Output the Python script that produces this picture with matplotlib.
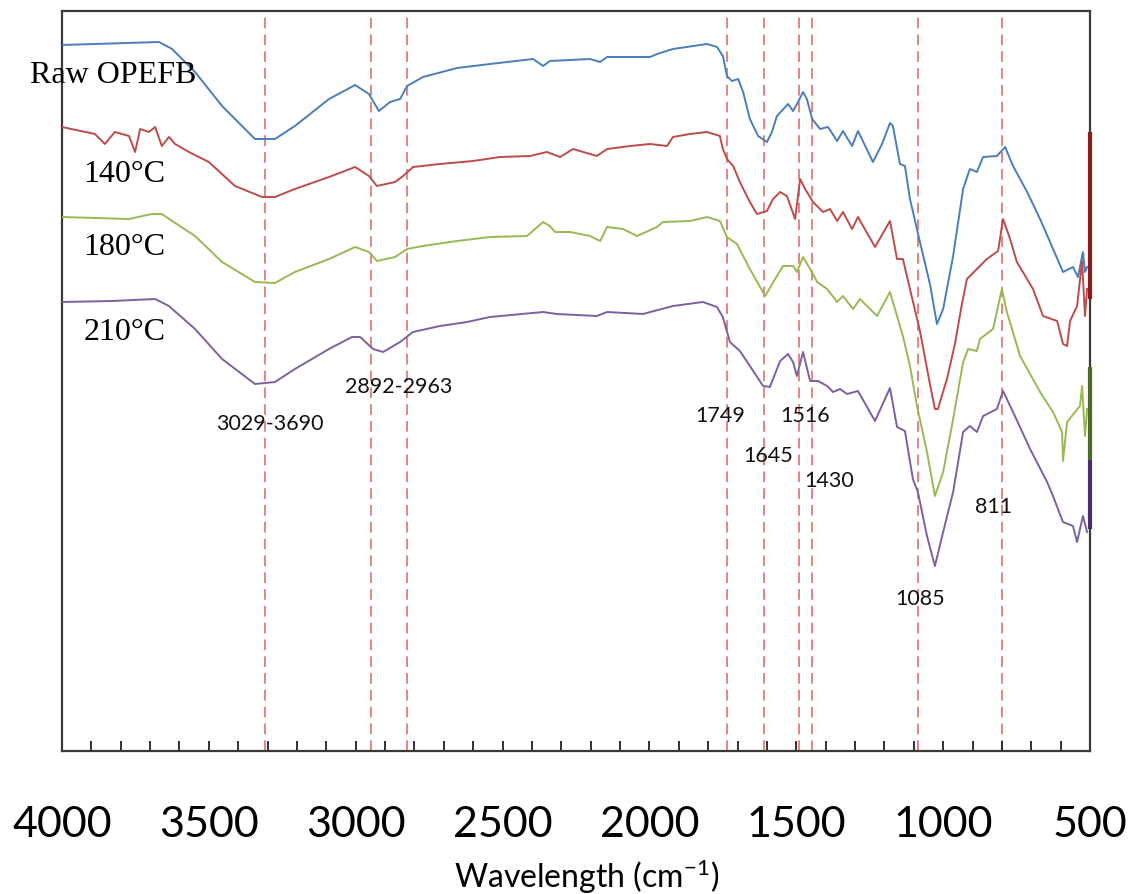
import matplotlib
matplotlib.use("Agg")
import matplotlib.pyplot as plt
from matplotlib.ticker import MultipleLocator

plt.rcParams['mathtext.fontset'] = 'custom'
plt.rcParams['mathtext.rm'] = 'Lato'
plt.rcParams['mathtext.it'] = 'Lato'

# ---------------- data (wavenumber cm-1, transmittance a.u.) ----------------
raw_wn = [4000, 3670, 3625, 3547, 3455, 3343, 3275, 3207, 3091, 3002, 2955, 2921, 2883, 2849,
          2825, 2771, 2655, 2543, 2396, 2362, 2339, 2202, 2168, 2144, 1998, 1974, 1920, 1804,
          1770, 1750, 1736, 1719, 1698, 1681, 1658, 1630, 1600, 1583, 1566, 1528, 1511, 1494,
          1477, 1464, 1446, 1419, 1392, 1361, 1341, 1310, 1290, 1239, 1208, 1181, 1171, 1147,
          1130, 1113, 1079, 1045, 1021, 1000, 966, 932, 909, 885, 864, 817, 789, 762, 714, 670,
          636, 592, 558, 541, 524, 517, 510]
raw_t = [70.6, 70.9, 70.2, 67.9, 64.5, 61.2, 61.2, 62.5, 65.2, 66.6, 65.7, 64.0, 64.9, 65.2,
         66.5, 67.4, 68.3, 68.7, 69.2, 68.5, 69.0, 69.2, 68.9, 69.4, 69.4, 69.7, 70.2, 70.7,
         70.4, 69.5, 67.5, 67.0, 67.2, 65.9, 63.2, 61.5, 60.9, 61.9, 63.5, 64.7, 64.0, 64.9,
         65.9, 65.2, 63.2, 62.2, 62.4, 61.0, 62.0, 60.5, 62.0, 58.9, 60.7, 62.8, 62.5, 58.7,
         58.5, 55.2, 50.9, 46.7, 42.7, 44.2, 49.5, 56.2, 58.2, 57.9, 59.4, 59.5, 60.4, 58.5,
         55.9, 53.2, 50.9, 47.9, 48.4, 47.4, 49.9, 47.9, 48.4]

t140_wn = [4000, 3888, 3854, 3820, 3772, 3751, 3734, 3704, 3683, 3660, 3636, 3615, 3568, 3500,
           3411, 3319, 3275, 3207, 3091, 3002, 2955, 2928, 2866, 2839, 2805, 2713, 2601, 2509,
           2407, 2349, 2304, 2260, 2179, 2144, 2066, 1998, 1940, 1920, 1862, 1804, 1760, 1750,
           1736, 1715, 1692, 1658, 1634, 1600, 1579, 1555, 1532, 1504, 1487, 1470, 1443, 1409,
           1385, 1361, 1341, 1310, 1290, 1232, 1181, 1157, 1137, 1113, 1079, 1045, 1028, 1018,
           987, 960, 936, 919, 885, 851, 813, 796, 772, 749, 694, 660, 612, 592, 578, 568, 544,
           527, 517, 510]
t140_t = [62.4, 61.7, 60.7, 61.9, 61.5, 59.9, 62.2, 61.9, 62.4, 60.5, 61.4, 60.7, 59.9, 58.9,
          56.5, 55.4, 55.4, 56.2, 57.4, 58.4, 57.5, 56.5, 56.9, 57.5, 58.4, 58.7, 59.0, 59.4,
          59.5, 59.9, 59.4, 60.2, 59.5, 60.2, 60.5, 60.7, 60.5, 61.4, 61.7, 61.9, 61.5, 60.2,
          59.2, 58.5, 56.9, 54.9, 53.7, 54.0, 55.2, 55.9, 55.5, 53.2, 57.2, 56.2, 54.9, 53.9,
          54.2, 53.0, 53.9, 52.2, 53.4, 50.4, 53.0, 49.2, 49.2, 46.2, 42.0, 36.7, 34.2, 34.2,
          37.2, 40.7, 44.7, 47.2, 48.2, 49.2, 50.0, 53.2, 51.2, 48.9, 46.2, 43.5, 43.0, 40.7,
          40.5, 43.0, 44.5, 49.0, 43.5, 46.2]

t180_wn = [4000, 3772, 3694, 3660, 3625, 3547, 3455, 3343, 3275, 3207, 3091, 3002, 2955, 2928,
           2866, 2825, 2771, 2655, 2543, 2417, 2362, 2339, 2321, 2270, 2202, 2168, 2144, 2090,
           2042, 1974, 1954, 1862, 1804, 1760, 1736, 1702, 1658, 1606, 1566, 1545, 1511, 1498,
           1477, 1453, 1429, 1395, 1361, 1341, 1307, 1283, 1225, 1181, 1164, 1137, 1113, 1089,
           1055, 1028, 1000, 966, 932, 915, 885, 875, 830, 800, 783, 738, 670, 626, 595, 592,
           578, 534, 527, 517, 510]
t180_t = [53.4, 53.2, 53.7, 53.7, 53.0, 51.5, 48.9, 46.9, 46.8, 47.9, 49.2, 50.4, 49.9, 49.0,
          49.4, 50.2, 50.5, 51.0, 51.4, 51.5, 52.9, 52.5, 51.9, 51.9, 51.5, 51.0, 52.4, 52.2,
          51.5, 52.4, 52.9, 53.0, 53.4, 53.0, 51.4, 50.7, 48.2, 45.5, 47.5, 48.5, 48.5, 47.9,
          49.4, 48.2, 46.9, 46.2, 44.9, 45.5, 44.2, 45.2, 43.5, 45.9, 44.2, 41.5, 38.5, 34.5,
          29.9, 25.5, 27.9, 33.2, 38.9, 40.2, 40.0, 41.2, 42.2, 46.2, 43.9, 39.5, 35.9, 33.9,
          31.9, 29.0, 32.9, 34.5, 36.5, 31.5, 34.2]

t210_wn = [4000, 3830, 3683, 3636, 3547, 3455, 3343, 3275, 3207, 3091, 3013, 2985, 2941, 2907,
           2849, 2805, 2713, 2621, 2543, 2362, 2315, 2179, 2144, 2022, 1920, 1818, 1770, 1750,
           1726, 1692, 1658, 1613, 1590, 1555, 1528, 1511, 1498, 1477, 1453, 1426, 1395, 1375,
           1351, 1327, 1290, 1232, 1181, 1157, 1130, 1120, 1103, 1086, 1055, 1028, 1000, 966,
           932, 909, 885, 864, 817, 796, 762, 704, 646, 626, 592, 558, 544, 524, 510]
t210_t = [44.9, 45.0, 45.2, 44.5, 42.2, 39.2, 36.7, 36.9, 38.2, 40.2, 41.4, 41.4, 40.2, 39.9,
          40.9, 41.9, 42.5, 42.9, 43.4, 43.9, 43.7, 43.5, 43.9, 43.7, 44.5, 44.9, 44.4, 43.4,
          40.9, 40.0, 38.5, 36.5, 36.4, 39.0, 39.7, 38.9, 37.5, 39.9, 37.0, 37.0, 36.5, 35.9,
          36.2, 35.7, 36.0, 33.0, 36.3, 32.4, 32.0, 30.2, 27.2, 25.9, 21.5, 18.5, 21.9, 25.9,
          31.9, 32.5, 31.9, 33.5, 34.2, 36.0, 33.9, 30.2, 26.9, 25.5, 22.9, 22.5, 20.9, 23.5,
          21.9]

series_names = ["Raw OPEFB", "140°C", "180°C", "210°C"]
series_colors = ["#4a7ebb", "#be4b48", "#98b954", "#7d60a0"]
edge_colors = ["#8b1a1a", "#4f6b28", "#4b2d6b"]
edge_lo = [45.2, 29.1, 22.2]
edge_hi = [61.9, 38.4, 29.1]

peak_lines = [3309, 2948, 2825, 1736, 1610, 1491, 1446, 1086, 800]
peak_labels = ["3029-3690", "2892-2963", "1749", "1645", "1516", "1430", "1085", "811"]
peak_label_x = [3292, 2853, 1760, 1596, 1470, 1389, 1079, 830]
peak_label_y = [32.2, 35.9, 33.0, 29.0, 33.0, 26.5, 14.7, 23.9]

name_x = [4109, 3928, 3928, 3928]
name_y = [66.9, 57.0, 49.7, 41.2]

x_ticks = [4000, 3500, 3000, 2500, 2000, 1500, 1000, 500]

# ---------------- figure ----------------
fig = plt.figure(figsize=(11.35, 8.95), dpi=100)
ax = fig.add_axes([62/1135, 1-752/895, (1090-62)/1135, (752-12)/895])

for x in peak_lines:
    ax.axvline(x, color="#dd6460", lw=1.1, dashes=(7, 4), zorder=1)

for wn, t, c in zip([raw_wn, t140_wn, t180_wn, t210_wn],
                    [raw_t, t140_t, t180_t, t210_t], series_colors):
    ax.plot(wn, t, color=c, lw=1.4, zorder=3)

ax.vlines([500]*3, edge_lo, edge_hi, colors=edge_colors, lw=3, zorder=5, clip_on=False)

for name, x, y in zip(series_names, name_x, name_y):
    ax.text(x, y, name, family="Liberation Serif", fontsize=23, ha="left",
            va="baseline", clip_on=False)

for lab, x, y in zip(peak_labels, peak_label_x, peak_label_y):
    ax.text(x, y, lab, family="Lato", fontsize=15.5, ha="center", va="baseline", color="#111111")

ax.set_xlim(4000, 500)
ax.set_ylim(0, 74)
ax.set_yticks([])
ax.set_xticks(x_ticks)
ax.set_xticklabels([str(v) for v in x_ticks], family="Lato", fontsize=31)
ax.xaxis.set_minor_locator(MultipleLocator(100))
ax.tick_params(axis="x", which="both", direction="in", length=7, width=1.3,
               color="#222222", pad=39)

fig.text(587/1135, 1-888/895, "Wavelength (cm$^{-1}$)", family="Lato", fontsize=23,
         ha="center", va="baseline")

for s in ax.spines.values():
    s.set_color("#3a3a3a")
    s.set_linewidth(1.6)

fig.savefig("out.png", dpi=100)
